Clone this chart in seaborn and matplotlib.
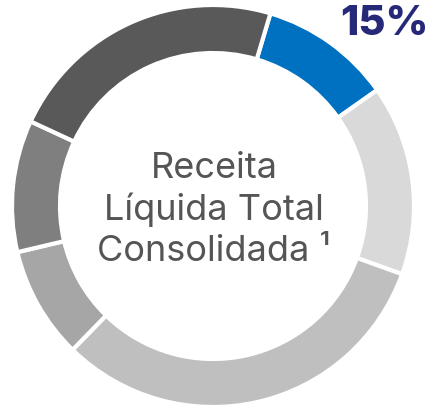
import matplotlib
matplotlib.use("Agg")
import matplotlib.pyplot as plt
import seaborn as sns

# fatias do anel, sentido horario a partir do segmento azul
segmentos = ["Destaque", "Seg B", "Seg C", "Seg D", "Seg E", "Seg F"]
valores = [10.6, 15.3, 31.8, 9.0, 10.6, 22.7]
cores = ["#0070C0", "#D9D9D9", "#BFBFBF", "#A6A6A6", "#7F7F7F", "#595959"]
rotulo_destaque = "15%"
titulo_centro = "Receita\nLíquida Total\nConsolidada ¹"

sns.set_theme(style="white")
plt.rcParams['font.family'] = ['Inter', 'DejaVu Sans']

fig = plt.figure(figsize=(4.36, 4.08), dpi=100)
ax = fig.add_axes([0, 0, 1, 1])

ax.pie(valores, colors=cores, startangle=73.4, counterclock=False,
       center=(213, 202), radius=201, frame=True,
       wedgeprops=dict(width=48, edgecolor="white", linewidth=3))
ax.set_xlim(0, 436)
ax.set_ylim(0, 408)
ax.set_aspect("equal")
ax.axis("off")

ax.text(214, 198, titulo_centro, ha="center", va="center", fontsize=26,
        color="#555555", linespacing=1.3)
ax.text(384, 384, rotulo_destaque, ha="center", va="center", fontsize=30,
        fontweight="heavy", color="#262878")

fig.savefig("out.png", dpi=100)
